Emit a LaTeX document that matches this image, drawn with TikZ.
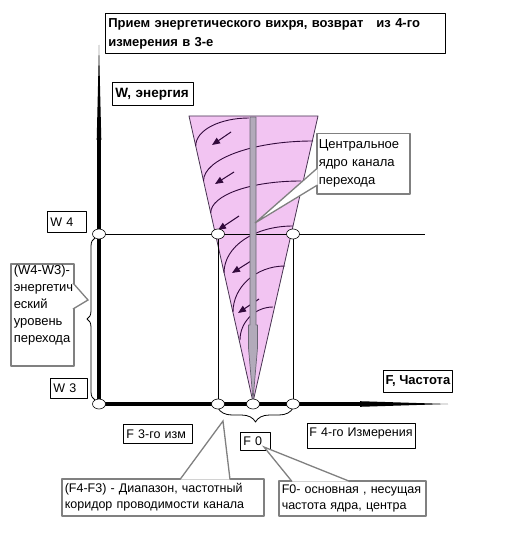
\documentclass[tikz,border=0pt]{standalone}
\usepackage{fontspec}
\setmainfont{Liberation Sans}
\usetikzlibrary{shapes.geometric,decorations.pathreplacing,arrows.meta}

\definecolor{conepink}{RGB}{242,196,242}
\definecolor{coneedge}{RGB}{70,50,80}
\definecolor{spiral}{RGB}{50,10,60}
\definecolor{corebar}{RGB}{178,170,186}
\definecolor{coreedge}{RGB}{105,100,115}
\definecolor{callgray}{RGB}{128,128,128}

\tikzset{
  lbl/.style={draw=black, line width=0.8pt, fill=white, inner xsep=3pt, inner ysep=1pt, anchor=north west,
    align=left, font=\fontsize{12.5}{15}\selectfont},
  lblbold/.style={lbl, font=\fontsize{13.5}{19}\selectfont\bfseries},
  callbox/.style={draw=callgray, line width=1.5pt, fill=white, inner xsep=3pt, inner ysep=1pt, anchor=north west,
    align=left, font=\fontsize{13}{17}\selectfont},
  ringdot/.style={ellipse, draw=black, line width=0.6pt, fill=white, minimum width=13pt, minimum height=10pt, inner sep=0pt},
  spiralarc/.style={draw=spiral, line width=0.9pt},
  swirl/.style={draw=spiral, fill=spiral, line width=1pt, -{Triangle[length=8pt,width=6.5pt]}},
}

% callout pointer: base a, tip, base b
\newcommand{\calloutptr}[3]{%
  \fill[white] #1 -- #2 -- #3 -- cycle;
  \draw[callgray, line width=1.3pt, line join=miter] #1 -- #2 -- #3;
}

\begin{document}
\begin{tikzpicture}[x=1pt, y=-1pt, line cap=butt, line join=round]

  %% ════ cone ════
  \filldraw[fill=conepink, draw=coneedge, line width=0.8pt] (189,116) -- (318,116) -- (253,402) -- cycle;

  %% ════ spiral arcs ════
  \draw[spiralarc] (195.7,146) .. controls (195.7,130) and (220,118) .. (249,118);
  \draw[spiralarc] (203.5,181) .. controls (203.5,159) and (253,141) .. (313,141);
  \draw[spiralarc] (210.7,213) .. controls (210.7,195) and (251,181) .. (301,181);
  \draw[spiralarc] (224,273) .. controls (224,246) and (255,226) .. (293,226);
  \draw[spiralarc] (233,312) .. controls (233,287) and (256,266) .. (285,266);
  \draw[spiralarc] (240,340) .. controls (240,322) and (255,307) .. (273,307);

  %% ════ swirl arrows ════
  \draw[swirl] (231,132) -- (212,145);
  \draw[swirl] (234,172) -- (215,184);
  \draw[swirl] (239,216) -- (218,230);
  \draw[swirl] (251,261) -- (232,273);
  \draw[swirl] (259,299) -- (238,313);

  %% ════ thin guide lines ════
  \draw[line width=0.9pt] (99,234) -- (425,234);
  \draw[line width=0.9pt] (218,234) -- (218,404);
  \draw[line width=0.9pt] (293,234) -- (293,404);

  %% ════ core bar ════
  \filldraw[fill=corebar, draw=coreedge, line width=0.7pt]
    (250,117) -- (256,117) -- (256,325) -- (257.5,325) -- (257.5,348) -- (253,400)
    -- (248.5,348) -- (248.5,325) -- (250,325) -- cycle;

  %% ════ axes ════
  \draw[line width=3.2pt] (99,404) -- (99,140);
  \fill (96.7,140) -- (99,45) -- (101.3,140) -- cycle;
  \draw[line width=3.2pt] (99,404) -- (360,404);
  \fill (360,401.2) -- (448,404) -- (360,406.8) -- cycle;

  %% ════ braces ════
  \draw[line width=0.8pt, decorate, decoration={brace, amplitude=8pt}] (95,400) -- (95,238);
  \draw[line width=0.8pt, decorate, decoration={brace, amplitude=14pt}] (293,408) -- (218,408);

  %% ════ markers ════
  \node[ringdot] (w4dot) at (99,234) {};
  \node[ringdot] (f3top) at (218,234) {};
  \node[ringdot] (f4top) at (293,234) {};
  \node[ringdot] (w3dot) at (99,404) {};
  \node[ringdot] (f3dot) at (218,404) {};
  \node[ringdot] (f0dot) at (253,404) {};
  \node[ringdot] (f4dot) at (293,404) {};

  %% ════ labels ════
  \node[lblbold, text width=334pt, minimum height=40pt, font=\fontsize{13}{19}\selectfont\bfseries] (title) at (105,13)
    {Прием энергетического вихря, возврат\ \ \ из 4-го\\измерения в 3-е};
  \node[lblbold, text width=75pt, inner xsep=3pt, minimum height=23pt] (wlabel) at (112,82) {W, энергия};
  \node[lblbold, minimum width=69pt, inner xsep=1pt, minimum height=22pt, font=\fontsize{13}{19}\selectfont\bfseries] (flabel) at (383,370) {F, Частота};
  \node[lbl, text width=33pt, minimum height=21pt] (w4lbl) at (47,211) {W 4};
  \node[lbl, text width=31pt, minimum height=20pt] (w3lbl) at (50,378) {W 3};
  \node[lbl, text width=63pt, minimum height=19pt] (f3lbl) at (123,424) {F 3-го изм};
  \node[lbl, text width=24pt, minimum height=18pt] (f0lbl) at (240,432) {F 0};
  \node[lbl, text width=104pt, inner xsep=2pt, minimum height=25pt, text depth=7pt] (f4lbl) at (307,423) {F 4-го Измерения};

  %% ════ callouts ════
  \node[callbox, text width=89pt, inner xsep=2pt, minimum height=60pt, font=\fontsize{13}{18}\selectfont] (core) at (316,133)
    {Центральное\\ядро канала\\перехода};
  \node[callbox, text width=57pt, minimum height=102pt] (wrange) at (10,263)
    {(W4-W3)-\\энергетич\\еский\\уровень\\перехода\\\strut};
  \node[callbox, text width=196pt, minimum height=37pt, font=\fontsize{12.5}{16}\selectfont] (fband) at (61,478)
    {(F4-F3) - Диапазон, частотный\\коридор проводимости канала};
  \node[callbox, text width=141pt, minimum height=35pt, font=\fontsize{12.5}{16}\selectfont] (fzero) at (278,480)
    {F0- основная , несущая\\частота ядра, центра};

  \coordinate (coretip) at (255,223);
  \coordinate (wrangetip) at (88,300);
  \coordinate (fbandtip) at (223,421);
  \coordinate (fzerotip) at (264,447);

  \calloutptr{([shift={(1.5,35)}]core.north west)}{(coretip)}{([shift={(1.5,52)}]core.north west)}
  \calloutptr{([shift={(-1.5,20)}]wrange.north east)}{(wrangetip)}{([shift={(-1.5,46)}]wrange.north east)}
  \calloutptr{([shift={(119,1.5)}]fband.north west)}{(fbandtip)}{([shift={(169,1.5)}]fband.north west)}
  \calloutptr{([shift={(14,1.5)}]fzero.north west)}{(fzerotip)}{([shift={(72,1.5)}]fzero.north west)}

  % fix canvas to the reference size
  \pgfresetboundingbox
  \path[use as bounding box] (0,0) rectangle (524,540);
\end{tikzpicture}
\end{document}
